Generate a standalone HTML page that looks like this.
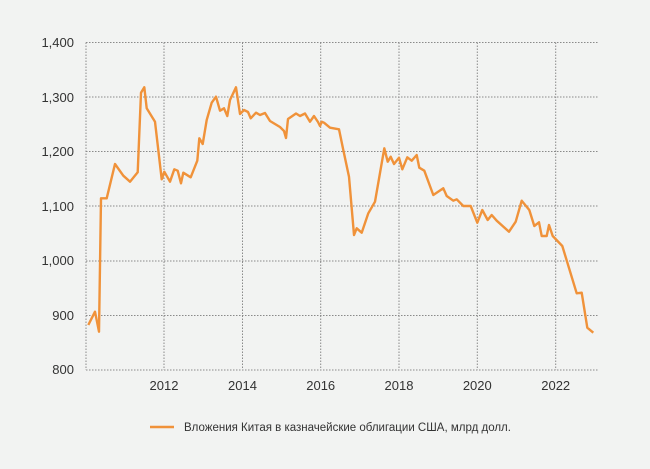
<!DOCTYPE html>
<html><head><meta charset="utf-8"><style>
body{margin:0;background:#f2f3f2;}
svg{display:block;font-family:"Liberation Sans","DejaVu Sans",sans-serif;}
</style></head><body>
<svg width="650" height="469" viewBox="0 0 650 469">
<rect width="650" height="469" fill="#f2f3f2"/>
<g stroke="#8a8a8a" stroke-width="1" stroke-dasharray="1.5,1.5" fill="none">
<line x1="86" y1="42.5" x2="598" y2="42.5"/>
<line x1="86" y1="97" x2="598" y2="97"/>
<line x1="86" y1="151.5" x2="598" y2="151.5"/>
<line x1="86" y1="206" x2="598" y2="206"/>
<line x1="86" y1="261" x2="598" y2="261"/>
<line x1="86" y1="315.5" x2="598" y2="315.5"/>
<line x1="86" y1="370" x2="598" y2="370"/>
<line x1="86" y1="42.5" x2="86" y2="370"/>
<line x1="164" y1="42.5" x2="164" y2="370"/>
<line x1="242.5" y1="42.5" x2="242.5" y2="370"/>
<line x1="320.7" y1="42.5" x2="320.7" y2="370"/>
<line x1="399" y1="42.5" x2="399" y2="370"/>
<line x1="477.3" y1="42.5" x2="477.3" y2="370"/>
<line x1="555.7" y1="42.5" x2="555.7" y2="370"/>
</g>
<g font-size="13" fill="#333" text-anchor="end">
<text x="74" y="47">1,400</text>
<text x="74" y="102">1,300</text>
<text x="74" y="156">1,200</text>
<text x="74" y="211">1,100</text>
<text x="74" y="265">1,000</text>
<text x="74" y="320">900</text>
<text x="74" y="374">800</text>
</g>
<g font-size="13" fill="#333" text-anchor="middle">
<text x="164" y="390">2012</text>
<text x="242.5" y="390">2014</text>
<text x="320.7" y="390">2016</text>
<text x="399" y="390">2018</text>
<text x="477.3" y="390">2020</text>
<text x="555.7" y="390">2022</text>
</g>
<polyline fill="none" stroke="#f0923a" stroke-width="2.4" stroke-linejoin="round" points="
88.3,325 95,311.7 99,331.7 101,198.3 106.7,198.3 115,164 123.3,175.7 130,181.7 137.7,172.3 141,92.7 144.3,87.3 146.7,108.3 155,121.7 161.7,179.3 164.3,171.7 170,181.7 174.3,169.3 177.7,170.7 181,183.3 183.3,172.7 190.7,177.3 197.3,160.7 199.3,138.3 202.7,144 206.7,120 211.7,102.7 216,96.7 220,110.7 224,108.3 227.3,116 230,100 236,87.3 240,114 244,110 248,112 250.7,118.3 256,112.7 260,115 265,113 270,121 280,127 284,131 286,138 288,119 296,113.5 300,116 305,113.5 310,121.7 314,116 318,122 320,126 321.7,121.7 324,122.7 330,127.7 339,129.3 343.3,150 349,176.7 354,235 356.7,228.3 361.7,232.7 368.3,213.3 375,201.7 384.3,148.3 387.7,161.7 390.7,156.7 394,164 399,157.7 402.3,169.3 407.3,157.3 411.7,160.7 416.7,155 419.3,167.7 424.3,170.7 433.3,195 443.3,188.3 446.7,196 453.3,200.7 456.7,199.3 463.3,206 470.7,206 477.3,222.7 482.3,210 487.7,220 491.7,215 496.7,220.7 509,231.7 515.7,221.7 521.7,200.7 529.3,210 534.3,226 539,222.3 541.7,236 546.7,236 549,225 552.7,236 562.3,246 576.7,293.3 581.7,292.7 587.3,327.7 593.3,332.7"/>
<line x1="150" y1="427" x2="174" y2="427" stroke="#f0923a" stroke-width="2.4"/>
<text x="184" y="431" font-size="11.5" fill="#333">Вложения Китая в казначейские облигации США, млрд долл.</text>
</svg>
</body></html>
